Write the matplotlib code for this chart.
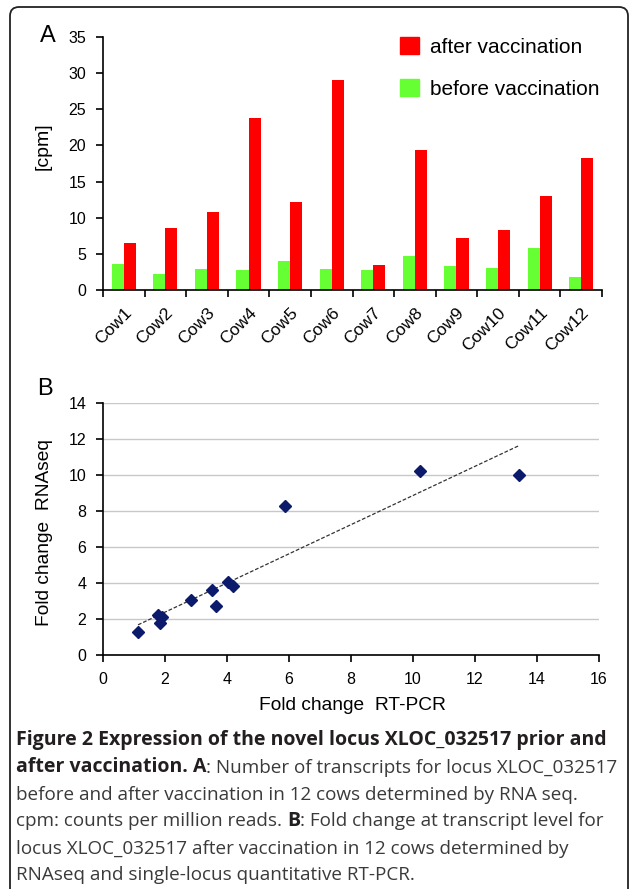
import numpy as np
import matplotlib
matplotlib.use("Agg")
import matplotlib.pyplot as plt
from matplotlib.patches import Patch, FancyBboxPatch
from matplotlib.transforms import IdentityTransform

# panel A: cpm per cow
cows = ["Cow1", "Cow2", "Cow3", "Cow4", "Cow5", "Cow6",
        "Cow7", "Cow8", "Cow9", "Cow10", "Cow11", "Cow12"]
before = [3.56, 2.22, 2.96, 2.82, 4.02, 2.91, 2.77, 4.76, 3.37, 3.05, 5.82, 1.80]
after = [6.47, 8.59, 10.85, 23.8, 12.24, 29.05, 3.51, 19.3, 7.16, 8.36, 12.97, 18.28]

# panel B: fold changes
rtpcr = [1.13, 1.79, 1.83, 1.91, 2.84, 3.53, 3.63, 4.02, 4.18, 5.88, 10.21, 13.42]
rnaseq = [1.26, 2.25, 1.79, 2.11, 3.05, 3.62, 2.75, 4.03, 3.82, 8.27, 10.21, 10.01]

caption = [
    [("Figure 2 Expression of the novel locus XLOC_032517 prior and", True)],
    [("after vaccination. A", True), (": Number of transcripts for locus XLOC_032517", False)],
    [("before and after vaccination in 12 cows determined by RNA seq.", False)],
    [("cpm: counts per million reads.", False), ("B", True), (": Fold change at transcript level for", False)],
    [("locus XLOC_032517 after vaccination in 12 cows determined by", False)],
    [("RNAseq and single-locus quantitative RT-PCR.", False)],
]

plt.rcParams['font.family'] = ['Liberation Sans', 'DejaVu Sans']
W, H = 629, 889
fig = plt.figure(figsize=(W / 100, H / 100), dpi=100)

def fx(px):
    return px / W

def fy(py):
    return 1 - py / H

# outer frame
frame = FancyBboxPatch((10, -30), 618, H - 7 + 30, boxstyle="round,pad=0,rounding_size=9",
                       transform=IdentityTransform(), fill=False, lw=1.3, ec='#222222')
fig.add_artist(frame)

red = '#ff0000'
green = '#66ff33'

# ---- panel A
axA = fig.add_axes([fx(103), fy(290), fx(602) - fx(103), fy(37) - fy(290)])
x = np.arange(len(cows))
w = 0.29
axA.bar(x - w / 2, before, w, color=green)
axA.bar(x + w / 2, after, w, color=red)
axA.set_xlim(-0.5, len(cows) - 0.5)
axA.set_ylim(0, 35)
axA.set_yticks(np.arange(0, 36, 5))
axA.set_xticks(np.arange(len(cows) + 1) - 0.5)
axA.set_xticklabels([])
axA.set_xticks(x, minor=True)
axA.set_xticklabels(cows, minor=True, rotation=45, ha='right', va='top',
                    rotation_mode='anchor')
axA.tick_params(axis='x', which='minor', length=0, pad=11, labelsize=12.5)
axA.tick_params(which='major', direction='out', length=5, width=1.2, labelsize=11.5, pad=7)
for s in ['top', 'right']:
    axA.spines[s].set_visible(False)
for s in ['left', 'bottom']:
    axA.spines[s].set_linewidth(1.2)

axA.legend(handles=[Patch(color=red, label='after vaccination'),
                    Patch(color=green, label='before vaccination')],
           loc='upper left', bbox_to_anchor=(fx(400), fy(37)), bbox_transform=fig.transFigure,
           frameon=False, fontsize=15, handlelength=0.9, handleheight=0.9,
           handletextpad=0.55, labelspacing=1.05, borderpad=0, borderaxespad=0)

fig.text(fx(40), fy(42), 'A', fontsize=17, ha='left', va='baseline')
fig.text(fx(43.5), fy(146), '[cpm]', rotation=90, ha='center', va='center', fontsize=14)

# ---- panel B
axB = fig.add_axes([fx(103), fy(655), fx(599) - fx(103), fy(403) - fy(655)])
axB.set_axisbelow(True)
axB.yaxis.grid(True, color='#c8c8c8', lw=1.0)
fit = np.polyfit(rtpcr, rnaseq, 1)
xs = np.array([min(rtpcr), max(rtpcr)])
axB.plot(xs, np.polyval(fit, xs), ls=(0, (3, 1.5)), color='#333333', lw=0.9, zorder=2)
axB.plot(rtpcr, rnaseq, 'D', color='#0b1a6b', ms=6.3, ls='none', zorder=3)
axB.set_xlim(0, 16)
axB.set_ylim(0, 14)
axB.set_xticks(np.arange(0, 17, 2))
axB.set_yticks(np.arange(0, 15, 2))
axB.tick_params(direction='out', length=5, width=1.2, labelsize=11.5, pad=7)
for s in ['top', 'right']:
    axB.spines[s].set_visible(False)
for s in ['left', 'bottom']:
    axB.spines[s].set_linewidth(1.2)

fig.text(fx(37), fy(395), 'B', fontsize=17, ha='left', va='baseline')
fig.text(fx(45), fy(533), 'Fold change  RNAseq', rotation=90, ha='center', va='center', fontsize=13.8)
fig.text(fx(352), fy(705), 'Fold change  RT-PCR', ha='center', va='center', fontsize=13.8)

# ---- caption (on an invisible full-figure axes)
cax = fig.add_axes([0, 0, 1, 1])
cax.axis('off')
cap_font = ['Open Sans', 'DejaVu Sans']
base = [744.5, 772, 799.5, 826.5, 853.5, 880]
for line, yb in zip(caption, base):
    prev = None
    for txt, bold in line:
        kw = dict(fontsize=14 if bold else 13.6, family=cap_font,
                  fontweight='bold' if bold else 'normal',
                  color='#231f20' if bold else '#3a3a3a')
        if prev is None:
            prev = cax.text(fx(16), fy(yb), txt, ha='left', va='baseline',
                            transform=cax.transAxes, **kw)
        else:
            gap = 3.5 if txt[0] != ':' else 0
            prev = cax.annotate(txt, xy=(1, 0), xycoords=prev, xytext=(gap, 0),
                                textcoords='offset points', ha='left', va='bottom', **kw)

fig.savefig('out.png', dpi=100)
